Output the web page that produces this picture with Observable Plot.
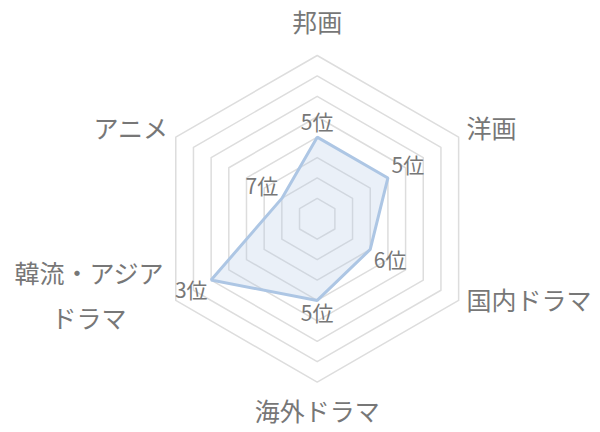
<!DOCTYPE html>
<html>
<head>
<meta charset="utf-8">
<script src="https://cdn.jsdelivr.net/npm/d3@7"></script>
<script src="https://cdn.jsdelivr.net/npm/@observablehq/plot@0.6"></script>
<style>
  html, body { margin: 0; padding: 0; background: #fff; }
  #chart svg { display: block; }
</style>
</head>
<body>
<div id="chart"></div>
<script>
// ---- data ----
const categories = ["邦画", "洋画", "国内ドラマ", "海外ドラマ", "韓流・アジアドラマ", "アニメ"];
const axisLabels = ["邦画", "洋画", "国内ドラマ", "海外ドラマ", "韓流・アジア\nドラマ", "アニメ"];
const ranks = [5, 5, 6, 5, 3, 7];
const rankLabels = ["5位", "5位", "6位", "5位", "3位", "7位"];
const ringLevels = [1, 2, 3, 4, 5, 6, 7, 8];

// ---- layout ----
const W = 600, H = 432;
const cx = 316.7, cy = 218.3, R = 163.3;
const maxLevel = ringLevels.length;
const unit = R / maxLevel;               // px per ring
const n = categories.length;
const ang = i => (i * 2 * Math.PI) / n;  // 0 = top, clockwise
const rankToRadius = r => maxLevel + 1 - r;

// rings
const ringPts = [];
for (const lv of ringLevels) {
  for (let i = 0; i < n; i++) {
    ringPts.push({ ring: lv, x: lv * Math.sin(ang(i)), y: lv * Math.cos(ang(i)) });
  }
}

// data polygon
const dataPts = categories.map((c, i) => {
  const r = rankToRadius(ranks[i]);
  return { cat: c, x: r * Math.sin(ang(i)), y: r * Math.cos(ang(i)) };
});

// value labels (offset outward by a box-based distance in px)
const hw = 19, hh = 9.5, gap = 4;
const valueLabels = categories.map((c, i) => {
  const dx = Math.sin(ang(i)), dy = Math.cos(ang(i));
  const k = Math.min(Math.abs(dx) > 1e-6 ? hw / Math.abs(dx) : Infinity,
                     Math.abs(dy) > 1e-6 ? hh / Math.abs(dy) : Infinity) + gap;
  return {
    text: rankLabels[i],
    x: dataPts[i].x + (k * dx) / unit,
    y: dataPts[i].y + (k * dy) / unit
  };
});

// axis (category) labels
const axisLabelData = axisLabels.map((t, i) => {
  const s = Math.sin(ang(i)), c = Math.cos(ang(i));
  let x, y, anchor;
  if (Math.abs(s) < 1e-6) {
    x = 0;
    y = c > 0 ? (R + 38) / unit : -(R + 24) / unit;
    anchor = "middle";
  } else {
    const rr = (R + 9) / unit;
    x = rr * s;
    y = rr * c + 3 / unit;
    anchor = s > 0 ? "start" : "end";
    if (t.includes("\n")) {
      // multi-line label: centered block whose right edge sits near the anchor
      anchor = "middle";
      x = x - 79 / unit;
      y = y + 11 / unit;
    }
  }
  return { text: t, x, y, anchor };
});

const font = "'Noto Sans CJK JP', 'Noto Sans', sans-serif";
const textColor = "#777777";

const chart = Plot.plot({
  width: W,
  height: H,
  margin: 0,
  style: { background: "#ffffff", fontFamily: font },
  x: { domain: [-maxLevel, maxLevel], range: [cx - R, cx + R], axis: null },
  y: { domain: [-maxLevel, maxLevel], range: [cy + R, cy - R], axis: null },
  marks: [
    Plot.line(ringPts, {
      x: "x", y: "y", z: "ring",
      curve: "linear-closed",
      stroke: "#dddddd", strokeWidth: 1.5
    }),
    Plot.line(dataPts, {
      x: "x", y: "y",
      curve: "linear-closed",
      fill: "#b3cae6", fillOpacity: 0.28,
      stroke: "#adc6e4", strokeWidth: 3, strokeLinejoin: "miter"
    }),
    Plot.text(valueLabels, {
      x: "x", y: "y", text: "text",
      fontSize: 21, fill: textColor, fontFamily: font
    }),
    Plot.text(axisLabelData.filter(d => d.anchor === "start"), {
      x: "x", y: "y", text: "text", textAnchor: "start",
      fontSize: 25, fill: textColor, fontFamily: font
    }),
    Plot.text(axisLabelData.filter(d => d.anchor === "end"), {
      x: "x", y: "y", text: "text", textAnchor: "end",
      fontSize: 25, fill: textColor, fontFamily: font
    }),
    Plot.text(axisLabelData.filter(d => d.anchor === "middle"), {
      x: "x", y: "y", text: "text", textAnchor: "middle", lineHeight: 1.8,
      fontSize: 25, fill: textColor, fontFamily: font
    })
  ]
});

document.getElementById("chart").appendChild(chart);
</script>
</body>
</html>
